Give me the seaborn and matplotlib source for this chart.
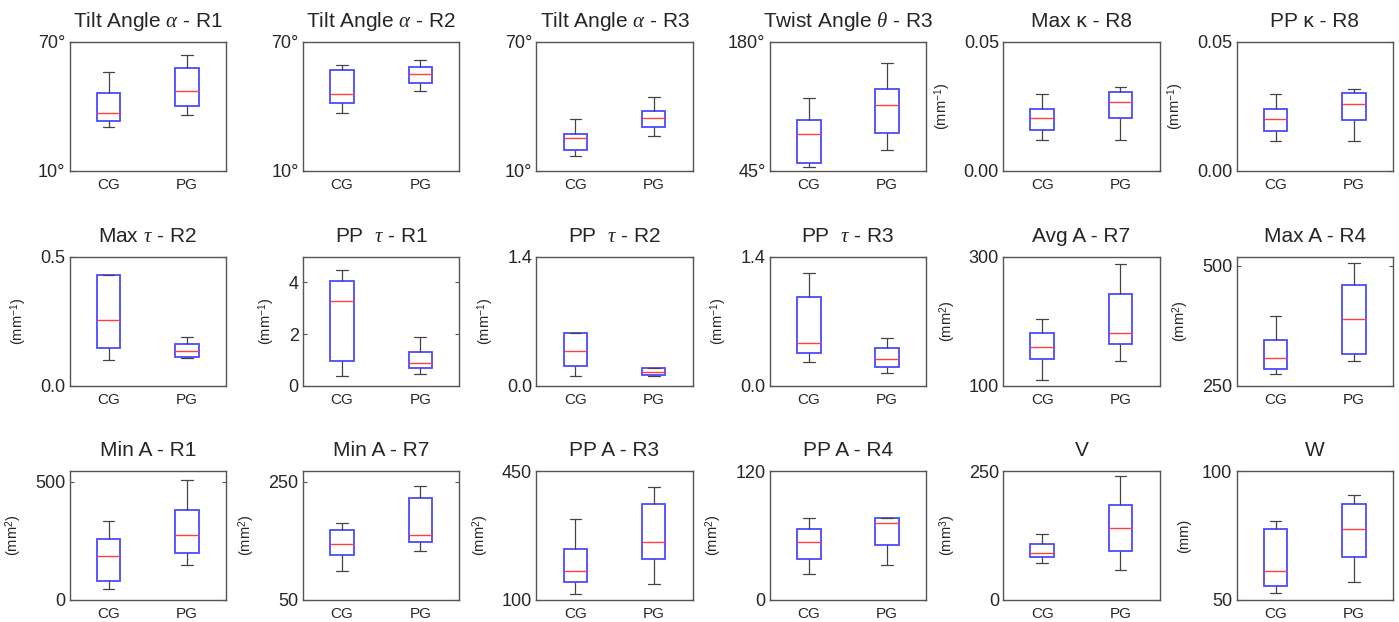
import numpy as np
import pandas as pd
import matplotlib
matplotlib.use("Agg")
import matplotlib.pyplot as plt
import seaborn as sns

# ---- data: five-number summaries [low whisker, Q1, median, Q3, high whisker] ----
groups = ["CG", "PG"]

tilt_r1_cg = [30.5, 33.3, 37.0, 46.1, 55.9]
tilt_r1_pg = [36.1, 40.1, 47.0, 57.6, 63.7]
tilt_r2_cg = [37.0, 41.4, 45.7, 56.7, 59.0]
tilt_r2_pg = [47.2, 50.8, 54.8, 58.2, 61.6]
tilt_r3_cg = [16.7, 19.5, 25.1, 26.9, 34.1]
tilt_r3_pg = [26.3, 30.2, 34.5, 37.8, 44.1]
twist_r3_cg = [48.6, 52.7, 83.7, 97.7, 120.7]
twist_r3_pg = [67.0, 84.1, 113.8, 130.8, 157.7]
maxk_r8_cg = [0.0118, 0.0157, 0.0205, 0.0239, 0.0297]
maxk_r8_pg = [0.0118, 0.0205, 0.0265, 0.0306, 0.0326]
ppk_r8_cg = [0.0114, 0.0154, 0.0200, 0.0238, 0.0297]
ppk_r8_pg = [0.0114, 0.0195, 0.0259, 0.0302, 0.0317]
maxt_r2_cg = [0.099, 0.148, 0.254, 0.431, 0.431]
maxt_r2_pg = [0.109, 0.113, 0.136, 0.162, 0.188]
ppt_r1_cg = [0.36, 0.95, 3.30, 4.05, 4.49]
ppt_r1_pg = [0.47, 0.69, 0.885, 1.325, 1.88]
ppt_r2_cg = [0.106, 0.218, 0.379, 0.571, 0.571]
ppt_r2_pg = [0.100, 0.120, 0.145, 0.196, 0.196]
ppt_r3_cg = [0.259, 0.357, 0.458, 0.968, 1.219]
ppt_r3_pg = [0.139, 0.204, 0.287, 0.411, 0.520]
avga_r7_cg = [109.3, 141.6, 160.3, 181.5, 202.9]
avga_r7_pg = [137.9, 165.4, 181.0, 241.8, 288.1]
maxa_r4_cg = [273.7, 285.0, 307.2, 345.0, 394.6]
maxa_r4_pg = [301.0, 315.6, 389.8, 461.0, 505.0]
mina_r1_cg = [46.5, 81.6, 186.0, 257.8, 332.6]
mina_r1_pg = [149.2, 198.6, 273.4, 381.7, 505.9]
mina_r7_cg = [99.0, 126.1, 144.2, 168.3, 180.2]
mina_r7_pg = [132.8, 147.5, 159.4, 223.0, 243.3]
ppa_r3_cg = [115.5, 148.0, 179.5, 239.2, 318.9]
ppa_r3_pg = [143.4, 210.4, 258.2, 360.4, 405.7]
ppa_r4_cg = [24.2, 38.4, 54.3, 65.7, 76.6]
ppa_r4_pg = [32.9, 51.4, 71.6, 76.0, 76.0]
v_cg = [72.3, 83.3, 91.7, 108.5, 127.9]
v_pg = [58.1, 95.0, 138.9, 183.5, 239.7]
w_cg = [52.7, 55.3, 61.2, 77.6, 80.7]
w_pg = [57.1, 66.8, 77.5, 87.1, 90.6]

titles = [
    r"Tilt Angle $\alpha$ - R1", r"Tilt Angle $\alpha$ - R2", r"Tilt Angle $\alpha$ - R3",
    r"Twist Angle $\theta$ - R3", "Max κ - R8", "PP κ - R8",
    r"Max $\tau$ - R2", r"PP  $\tau$ - R1", r"PP  $\tau$ - R2",
    r"PP  $\tau$ - R3", "Avg A - R7", "Max A - R4",
    "Min A - R1", "Min A - R7", "PP A - R3",
    "PP A - R4", "V", "W",
]
cg_data = [tilt_r1_cg, tilt_r2_cg, tilt_r3_cg, twist_r3_cg, maxk_r8_cg, ppk_r8_cg,
           maxt_r2_cg, ppt_r1_cg, ppt_r2_cg, ppt_r3_cg, avga_r7_cg, maxa_r4_cg,
           mina_r1_cg, mina_r7_cg, ppa_r3_cg, ppa_r4_cg, v_cg, w_cg]
pg_data = [tilt_r1_pg, tilt_r2_pg, tilt_r3_pg, twist_r3_pg, maxk_r8_pg, ppk_r8_pg,
           maxt_r2_pg, ppt_r1_pg, ppt_r2_pg, ppt_r3_pg, avga_r7_pg, maxa_r4_pg,
           mina_r1_pg, mina_r7_pg, ppa_r3_pg, ppa_r4_pg, v_pg, w_pg]
ylims = [(10, 70), (10, 70), (10, 70), (45, 180), (0, 0.05), (0, 0.05),
         (0, 0.5), (0, 5), (0, 1.4), (0, 1.4), (100, 300), (250, 519),
         (0, 545), (50, 268), (100, 450), (0, 120), (0, 250), (50, 100)]
yticks = [[10, 70], [10, 70], [10, 70], [45, 180], [0, 0.05], [0, 0.05],
          [0, 0.5], [0, 2, 4], [0, 1.4], [0, 1.4], [100, 300], [250, 500],
          [0, 500], [50, 250], [100, 450], [0, 120], [0, 250], [50, 100]]
yticklabels = [["10°", "70°"], ["10°", "70°"], ["10°", "70°"], ["45°", "180°"],
               ["0.00", "0.05"], ["0.00", "0.05"], ["0.0", "0.5"], ["0", "2", "4"],
               ["0.0", "1.4"], ["0.0", "1.4"], ["100", "300"], ["250", "500"],
               ["0", "500"], ["50", "250"], ["100", "450"], ["0", "120"],
               ["0", "250"], ["50", "100"]]
inv = r"(mm$^{-1}$)"
sq = r"(mm$^{2}$)"
ylabels = ["", "", "", "", inv, inv, inv, inv, inv, inv, sq, sq,
           sq, sq, sq, sq, r"(mm$^{3}$)", "(mm)"]

# ---- style ----
sns.set_theme(style="white")
plt.rcParams["font.family"] = ["Liberation Sans", "DejaVu Sans"]
plt.rcParams["mathtext.fontset"] = "custom"
plt.rcParams["mathtext.rm"] = "Liberation Sans"
plt.rcParams["mathtext.it"] = "Liberation Serif:italic"
plt.rcParams["mathtext.bf"] = "Liberation Sans:bold"

W, H = 1399, 622
fig = plt.figure(figsize=(W / 100, H / 100), dpi=100)
fig.patch.set_facecolor("white")

col_left = [69.5 + i * 233.4 for i in range(6)]
row_top = [41.7, 256.7, 471.0]
ax_w, ax_h = 156.5, 129.0

for i in range(18):
    r, c = divmod(i, 6)
    rect = [col_left[c] / W, 1 - (row_top[r] + ax_h) / H, ax_w / W, ax_h / H]
    ax = fig.add_axes(rect)
    df = pd.DataFrame({
        "group": ["CG"] * len(cg_data[i]) + ["PG"] * len(pg_data[i]),
        "value": list(cg_data[i]) + list(pg_data[i]),
    })
    sns.boxplot(data=df, x="group", y="value", order=groups, ax=ax,
                whis=(0, 100), width=0.3, showfliers=False,
                color="white", linecolor="#333333", linewidth=1.0,
                boxprops=dict(edgecolor="#4a4aff", linewidth=1.3),
                medianprops=dict(color="#ff4040", linewidth=1.0),
                whiskerprops=dict(color="#444444", linewidth=0.9),
                capprops=dict(color="#444444", linewidth=0.9))
    ax.set_xlim(-0.5, 1.5)
    ax.set_ylim(*ylims[i])
    ax.set_yticks(yticks[i])
    ax.set_yticklabels(yticklabels[i], fontsize=13)
    ax.set_xticks([0, 1])
    ax.set_xticklabels(groups, fontsize=11)
    ax.tick_params(axis="x", length=0, pad=5)
    ax.tick_params(axis="y", direction="in", length=3, width=0.8, color="#555555",
                   left=True, right=True, labelleft=True, labelright=False, pad=3)
    ax.set_xlabel("")
    ax.set_ylabel(ylabels[i], fontsize=10.5, labelpad=8)
    ax.set_title(titles[i], fontsize=15, pad=10.5)
    for sp in ax.spines.values():
        sp.set_visible(True)
        sp.set_color("#555555")
        sp.set_linewidth(1.0)
    ax.set_facecolor("white")

fig.savefig("out.png", dpi=100, facecolor="white")
